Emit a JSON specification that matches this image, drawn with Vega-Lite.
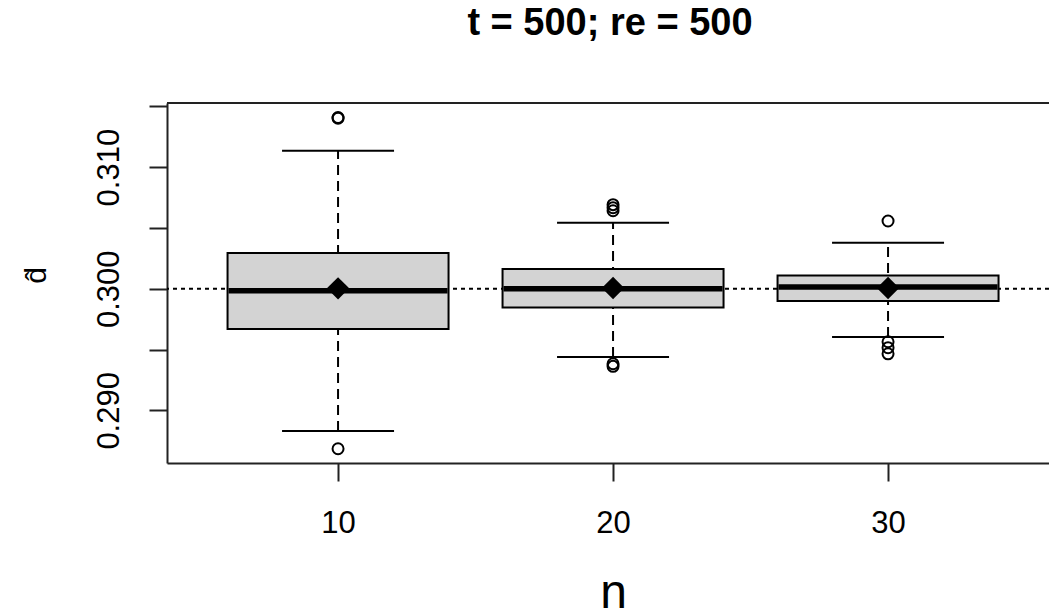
{
  "$schema": "https://vega.github.io/schema/vega-lite/v6.json",
  "width": 882,
  "height": 360,
  "autosize": {"type": "none"},
  "padding": {"left": 167, "top": 103, "right": 0, "bottom": 150},
  "background": "white",
  "config": {"view": {"stroke": null}, "font": "Liberation Sans", "scale": {"continuousPadding": 0}},
  "title": {
    "text": "t = 500; re = 500",
    "font": "Liberation Sans",
    "fontSize": 38,
    "fontWeight": "bold",
    "color": "black",
    "anchor": "middle",
    "baseline": "alphabetic",
    "offset": 29,
    "dx": 2
  },
  "datasets": {
    "boxes": [
      {"n": 10, "lo": 0.2883, "q1": 0.29669, "med": 0.29984, "q3": 0.30294, "hi": 0.31135, "mean": 0.30003},
      {"n": 20, "lo": 0.29438, "q1": 0.29846, "med": 0.3, "q3": 0.30162, "hi": 0.30543, "mean": 0.30006},
      {"n": 30, "lo": 0.29603, "q1": 0.29899, "med": 0.30014, "q3": 0.30109, "hi": 0.30378, "mean": 0.30006}
    ],
    "outliers": [
      {"n": 10, "value": 0.31402},
      {"n": 10, "value": 0.31407},
      {"n": 10, "value": 0.28684},
      {"n": 20, "value": 0.30691},
      {"n": 20, "value": 0.30666},
      {"n": 20, "value": 0.30641},
      {"n": 20, "value": 0.29383},
      {"n": 20, "value": 0.29362},
      {"n": 30, "value": 0.30557},
      {"n": 30, "value": 0.29564},
      {"n": 30, "value": 0.29515},
      {"n": 30, "value": 0.29465}
    ]
  },
  "layer": [
    {
      "data": {"name": "boxes"},
      "mark": {"type": "rule", "strokeDash": [10, 6], "strokeWidth": 2, "color": "black"},
      "encoding": {
        "x": {
          "field": "n", "type": "quantitative",
          "scale": {"domain": [3.78, 35.853], "nice": false, "zero": false, "padding": 0},
          "axis": {
            "values": [10, 20, 30],
            "format": "d",
            "title": "n",
            "titleFont": "Liberation Sans",
            "titleFontSize": 48,
            "titleFontWeight": "normal",
            "titleColor": "black",
            "titleBaseline": "alphabetic",
            "titleAlign": "center",
            "titleX": 446,
            "titleY": 144,
            "labelFont": "Liberation Sans",
            "labelFontSize": 31,
            "labelColor": "black",
            "labelAngle": 0,
            "labelAlign": "center",
            "labelBaseline": "alphabetic",
            "labelPadding": 51,
            "labelFlush": false,
            "labelOverlap": false,
            "tickSize": 18,
            "tickWidth": 2,
            "tickColor": "#222",
            "domainColor": "#222",
            "domainWidth": 2,
            "grid": false
          }
        },
        "y": {
          "field": "lo", "type": "quantitative",
          "scale": {"domain": [0.28567, 0.31527], "nice": false, "zero": false, "padding": 0},
          "axis": {
            "values": [0.29, 0.295, 0.3, 0.305, 0.31, 0.315],
            "labelExpr": "round(datum.value * 1000) % 10 == 0 ? format(datum.value, '.3f') : ''",
            "title": "d\u0302",
            "titleFont": "Liberation Sans",
            "titleFontSize": 30,
            "titleFontWeight": "normal",
            "titleColor": "black",
            "titleAngle": -90,
            "titleAlign": "center",
            "titleBaseline": "alphabetic",
            "titleX": -122,
            "titleY": 172,
            "labelFont": "Liberation Sans",
            "labelFontSize": 31,
            "labelColor": "black",
            "labelAngle": -90,
            "labelAlign": "center",
            "labelBaseline": "alphabetic",
            "labelPadding": 31,
            "labelOverlap": false,
            "labelFlush": false,
            "tickSize": 18,
            "tickWidth": 2,
            "tickColor": "#222",
            "domainColor": "#222",
            "domainWidth": 2,
            "grid": false
          }
        },
        "y2": {"field": "hi"}
      }
    },
    {
      "data": {"name": "boxes"},
      "transform": [{"aggregate": [{"op": "count", "as": "count"}]}],
      "mark": {"type": "rule", "strokeDash": [4, 4], "strokeWidth": 2, "color": "black"},
      "encoding": {
        "y": {"datum": 0.3, "type": "quantitative"}
      }
    },
    {
      "data": {"name": "boxes"},
      "mark": {"type": "bar", "orient": "vertical", "size": 221, "fill": "#d3d3d3", "stroke": "black", "strokeWidth": 2},
      "encoding": {
        "x": {"field": "n", "type": "quantitative"},
        "y": {"field": "q1", "type": "quantitative"},
        "y2": {"field": "q3"}
      }
    },
    {
      "data": {"name": "boxes"},
      "mark": {"type": "tick", "orient": "horizontal", "size": 112, "thickness": 2, "color": "black", "opacity": 1},
      "encoding": {
        "x": {"field": "n", "type": "quantitative"},
        "y": {"field": "lo", "type": "quantitative"}
      }
    },
    {
      "data": {"name": "boxes"},
      "mark": {"type": "tick", "orient": "horizontal", "size": 112, "thickness": 2, "color": "black", "opacity": 1},
      "encoding": {
        "x": {"field": "n", "type": "quantitative"},
        "y": {"field": "hi", "type": "quantitative"}
      }
    },
    {
      "data": {"name": "boxes"},
      "mark": {"type": "tick", "orient": "horizontal", "size": 219, "thickness": 5.5, "color": "black", "opacity": 1},
      "encoding": {
        "x": {"field": "n", "type": "quantitative"},
        "y": {"field": "med", "type": "quantitative"}
      }
    },
    {
      "data": {"name": "outliers"},
      "mark": {"type": "point", "shape": "circle", "filled": false, "stroke": "black", "strokeWidth": 2, "size": 121, "opacity": 1},
      "encoding": {
        "x": {"field": "n", "type": "quantitative"},
        "y": {"field": "value", "type": "quantitative"}
      }
    },
    {
      "data": {"name": "boxes"},
      "mark": {"type": "point", "shape": "diamond", "filled": true, "fill": "black", "size": 500, "opacity": 1},
      "encoding": {
        "x": {"field": "n", "type": "quantitative"},
        "y": {"field": "mean", "type": "quantitative"}
      }
    },
    {
      "data": {"name": "boxes"},
      "transform": [{"aggregate": [{"op": "count", "as": "count"}]}],
      "mark": {"type": "rule", "strokeWidth": 2, "color": "#222"},
      "encoding": {
        "y": {"datum": 0.31527, "type": "quantitative"}
      }
    }
  ]
}
